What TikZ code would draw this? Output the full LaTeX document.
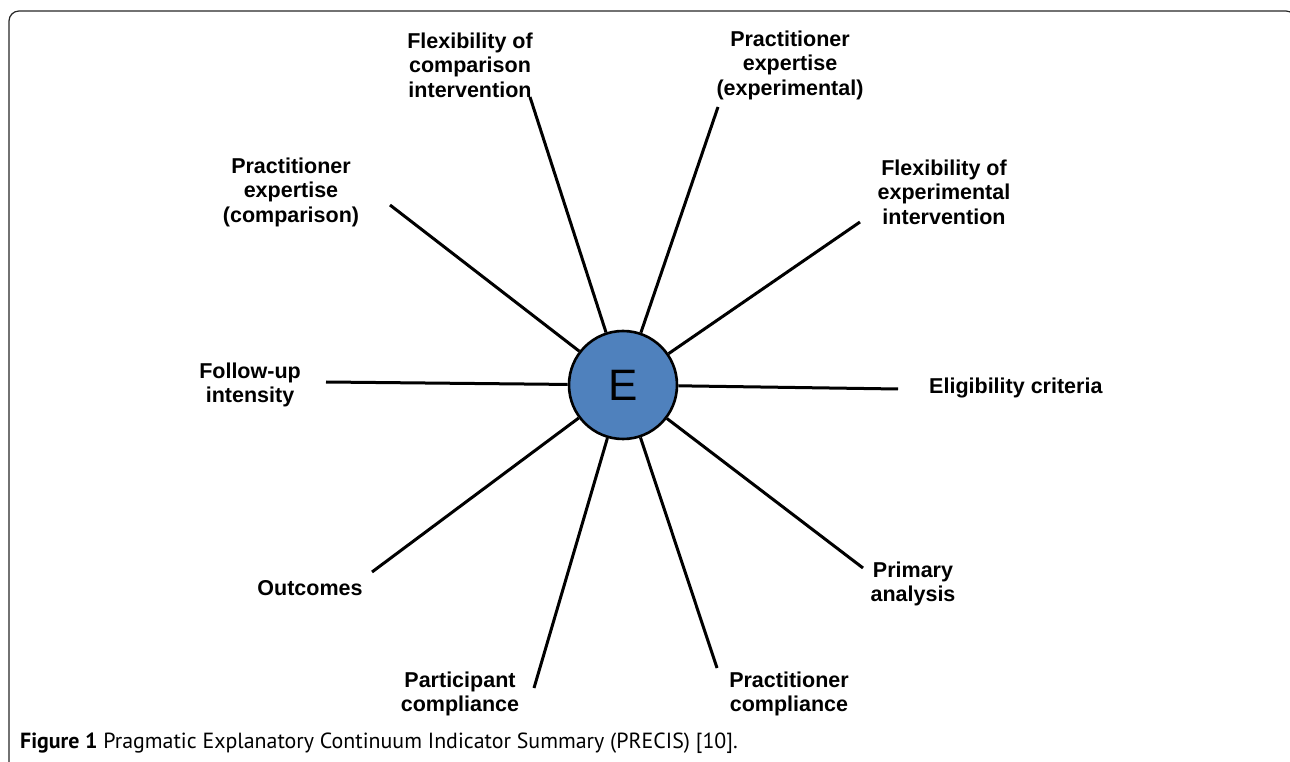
\documentclass[tikz,border=0pt]{standalone}
\usepackage{fontspec}
\setmainfont{Liberation Sans}
\newfontfamily\capfont{PT Sans}
\usetikzlibrary{positioning}
\definecolor{eblue}{HTML}{4F81BD}

\begin{document}
\begin{tikzpicture}[x=1pt,y=1pt,
        lbl/.style={align=center,inner sep=0pt,font=\fontsize{21.5}{24.5}\selectfont\bfseries},
        spoke/.style={line width=3pt}]
                \useasboundingbox (0,0) rectangle (1290,761);
                \draw[line width=1.2pt,draw=black!85,rounded corners=10pt] (9,-2) |- (1296,750) -- (1296,700);

                \node[circle,draw,line width=2.6pt,fill=eblue,minimum size=108pt,inner sep=0pt,
                        font=\fontsize{44}{44}\selectfont] (E) at (623,376) {E};

                \coordinate (c_fci)   at (530,664);
                \coordinate (c_pee)   at (718,654);
                \coordinate (c_fei)   at (860,539);
                \coordinate (c_elig)  at (898,372);
                \coordinate (c_prim)  at (863,193);
                \coordinate (c_pcomp) at (717,93);
                \coordinate (c_partc) at (534,73);
                \coordinate (c_outc)  at (372,189);
                \coordinate (c_fup)   at (326,379);
                \coordinate (c_pec)   at (390,556);

                \node[lbl] (fci)   at (470,696) {Flexibility of\\comparison\\intervention};
                \node[lbl] (pee)   at (790,696) {Practitioner\\expertise\\(experimental)};
                \node[lbl] (pec)   at (291,569) {Practitioner\\expertise\\(comparison)};
                \node[lbl] (fei)   at (944,569) {Flexibility of\\experimental\\intervention};
                \node[lbl,anchor=west] (elig) at (929,373) {Eligibility criteria};
                \node[lbl] (fup)   at (250,376) {Follow-up\\intensity};
                \node[lbl] (outc)  at (310,173) {Outcomes};
                \node[lbl] (prim)  at (913,177) {Primary\\analysis};
                \node[lbl] (pcomp) at (789,67)  {Practitioner\\compliance};
                \node[lbl] (partc) at (460,67)  {Participant\\compliance};

                \path[spoke]
                (E) edge (c_fci)
                (E) edge (c_pee)
                (E) edge (c_fei)
                (E) edge (c_elig)
                (E) edge (c_prim)
                (E) edge (c_pcomp)
                (E) edge (c_partc)
                (E) edge (c_outc)
                (E) edge (c_fup)
                (E) edge (c_pec);

                \node[anchor=base west,inner sep=0pt,font=\capfont\fontsize{21.9}{26}\selectfont] (cap) at (20,13)
                        {\textbf{Figure 1} Pragmatic Explanatory Continuum Indicator Summary (PRECIS) [10].};
            \end{tikzpicture}
\end{document}
